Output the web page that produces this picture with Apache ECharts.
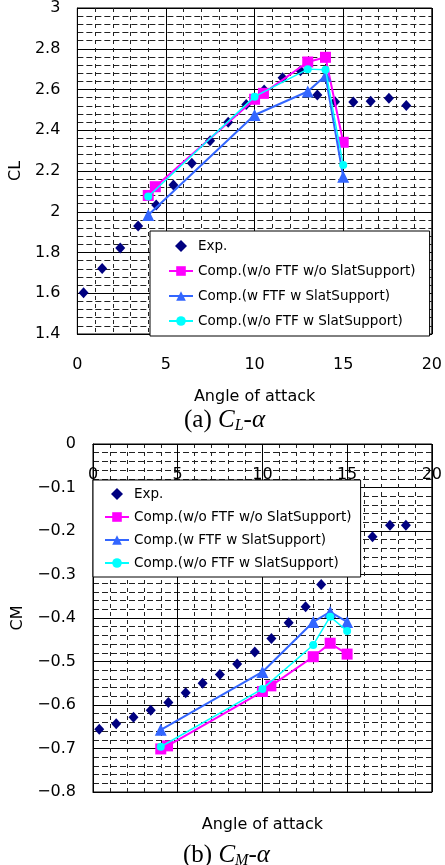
<!DOCTYPE html>
<html>
<head>
<meta charset="utf-8">
<script src="https://cdn.jsdelivr.net/npm/echarts@6/dist/echarts.min.js"></script>
<style>
  html, body { margin: 0; padding: 0; background: #fff; }
  #chart { width: 445px; height: 865px; }
</style>
</head>
<body>
<div id="chart"></div>
<script>
// ---- Series names ----
const seriesNames = [
  'Exp.',
  'Comp.(w/o FTF w/o SlatSupport)',
  'Comp.(w FTF w SlatSupport)',
  'Comp.(w/o FTF w SlatSupport)'
];

// ---- Angle of attack (deg) ----
const clExpAlpha = [0.35, 1.4, 2.42, 3.43, 4.45, 5.42, 6.46, 7.49, 8.51, 9.53, 10.54, 11.58, 12.59, 13.54, 14.54, 15.57, 16.55, 17.58, 18.56];
const cmExpAlpha = [0.37, 1.37, 2.39, 3.41, 4.45, 5.47, 6.47, 7.49, 8.51, 9.55, 10.53, 11.55, 12.55, 13.47, 16.5, 17.53, 18.47];
const noSlatAlpha = [4.0, 4.4, 10.0, 10.5, 13.0, 14.0, 15.0];
const slatAlpha = [4.0, 10.0, 13.0, 14.0, 15.0];

// ---- Lift coefficient CL ----
const clExp = [1.603, 1.721, 1.822, 1.930, 2.033, 2.131, 2.238, 2.349, 2.439, 2.526, 2.598, 2.658, 2.692, 2.573, 2.540, 2.539, 2.542, 2.557, 2.522];
const clNoFtfNoSlat = [2.080, 2.123, 2.552, 2.581, 2.735, 2.758, 2.341];
const clFtfSlat = [1.984, 2.475, 2.590, 2.667, 2.172];
const clNoFtfSlat = [2.075, 2.565, 2.700, 2.697, 2.229];

// ---- Pitching moment coefficient CM ----
const cmExp = [-0.656, -0.643, -0.628, -0.612, -0.594, -0.572, -0.550, -0.530, -0.506, -0.478, -0.447, -0.411, -0.374, -0.323, -0.213, -0.187, -0.187];
const cmNoFtfNoSlat = [-0.701, -0.694, -0.569, -0.556, -0.489, -0.458, -0.483];
const cmFtfSlat = [-0.657, -0.524, -0.409, -0.386, -0.409];
const cmNoFtfSlat = [-0.696, -0.563, -0.462, -0.397, -0.430];

// ---- Axis ranges / tick labels ----
const alphaTicks = { min: 0, max: 20, interval: 5 };
const clTicks = { min: 1.4, max: 3, interval: 0.2 };
const cmTicks = { min: -0.8, max: 0, interval: 0.1 };

const pair = (xs, ys) => xs.map((x, i) => [x, ys[i]]);

const FONT = 'DejaVu Sans';
const colors = { exp: '#000080', noSlat: '#ff00ff', ftf: '#3366ff', noFtf: '#00ffff' };
const DIAMOND = 'path://M5,0 L10,5 L5,10 L0,5 Z';

const majorLine = { show: true, lineStyle: { color: '#000', width: 1, type: 'solid' } };
const minorLineV = { show: true, lineStyle: { color: '#222', width: 1, type: [4, 4] } };
const minorLineH = { show: true, lineStyle: { color: '#222', width: 1, type: [6, 3] } };

function xAxisFor(gridIndex, extra) {
  return Object.assign({
    type: 'value', gridIndex,
    min: alphaTicks.min, max: alphaTicks.max, interval: alphaTicks.interval,
    axisLine: { show: true, onZero: false, lineStyle: { color: '#000', width: 1 } },
    axisTick: { show: false },
    minorTick: { show: false, splitNumber: 5 },
    splitLine: majorLine,
    minorSplitLine: minorLineV,
    axisLabel: { color: '#000', fontFamily: FONT, fontSize: 16, margin: 23 },
    nameTextStyle: { color: '#000', fontFamily: FONT, fontSize: 16 }
  }, extra);
}

function yAxisFor(gridIndex, ticks, extra) {
  return Object.assign({
    type: 'value', gridIndex,
    min: ticks.min, max: ticks.max, interval: ticks.interval,
    axisLine: { show: true, onZero: false, lineStyle: { color: '#000', width: 1 } },
    axisTick: { show: false },
    minorTick: { show: false, splitNumber: 5 },
    splitLine: majorLine,
    minorSplitLine: minorLineH,
    nameLocation: 'middle',
    nameTextStyle: { color: '#000', fontFamily: FONT, fontSize: 16 }
  }, extra);
}

function seriesSet(xi, yi, expX, expY, nsY, fsY, nfY) {
  return [
    {
      name: seriesNames[0], type: 'scatter', xAxisIndex: xi, yAxisIndex: yi,
      symbol: 'diamond', symbolSize: [10, 11],
      itemStyle: { color: colors.exp, opacity: 1 },
      data: pair(expX, expY), z: 2
    },
    {
      name: seriesNames[1], type: 'line', xAxisIndex: xi, yAxisIndex: yi,
      symbol: 'rect', symbolSize: 11, showAllSymbol: true,
      lineStyle: { color: colors.noSlat, width: 2 },
      itemStyle: { color: colors.noSlat },
      data: pair(noSlatAlpha, nsY), z: 3
    },
    {
      name: seriesNames[2], type: 'line', xAxisIndex: xi, yAxisIndex: yi,
      symbol: 'triangle', symbolSize: 12, showAllSymbol: true,
      lineStyle: { color: colors.ftf, width: 2 },
      itemStyle: { color: colors.ftf },
      data: pair(slatAlpha, fsY), z: 4
    },
    {
      name: seriesNames[3], type: 'line', xAxisIndex: xi, yAxisIndex: yi,
      symbol: 'circle', symbolSize: 8, showAllSymbol: true,
      lineStyle: { color: colors.noFtf, width: 1.5 },
      itemStyle: { color: colors.noFtf },
      data: pair(slatAlpha, nfY), z: 5
    }
  ];
}

function legendAt(left, top, gap, padding) {
  return {
    data: [{ name: seriesNames[0], icon: DIAMOND, itemStyle: { opacity: 1 } }].concat(seriesNames.slice(1)),
    orient: 'vertical', left, top,
    itemWidth: 24, itemHeight: 12, itemGap: gap, padding,
    symbolKeepAspect: true,
    backgroundColor: '#fff', borderColor: '#000', borderWidth: 1, borderRadius: 0,
    textStyle: { color: '#000', fontFamily: FONT, fontSize: 13.5 },
    selectedMode: false, z: 10
  };
}

const captionRich = {
  n: { fontFamily: 'Liberation Serif', fontSize: 25, fontWeight: 'normal', color: '#000' },
  i: { fontFamily: 'Liberation Serif', fontSize: 25, fontWeight: 'normal', fontStyle: 'italic', color: '#000' },
  s: { fontFamily: 'Liberation Serif', fontSize: 16, fontWeight: 'normal', fontStyle: 'italic', color: '#000', padding: [12, 0, 0, 0] }
};

const chart = echarts.init(document.getElementById('chart'), null, { renderer: 'canvas' });

chart.setOption({
  animation: false,
  backgroundColor: '#fff',
  title: [
    { text: '{n|(a) }{i|C}{s|L}{n|-}{i|α}', left: 184, top: 406, padding: 0,
      textStyle: { fontWeight: 'normal', rich: captionRich } },
    { text: '{n|(b) }{i|C}{s|M}{n|-}{i|α}', left: 183, top: 841, padding: 0,
      textStyle: { fontWeight: 'normal', rich: captionRich } }
  ],
  grid: [
    { left: 77, top: 8, width: 358, height: 326, show: true, borderColor: '#000', borderWidth: 1, backgroundColor: 'transparent' },
    { left: 93, top: 444, width: 340, height: 348, show: true, borderColor: '#000', borderWidth: 1, backgroundColor: 'transparent' }
  ],
  xAxis: [
    xAxisFor(0, { position: 'bottom', name: 'Angle of attack', nameLocation: 'middle', nameGap: 55 }),
    xAxisFor(1, { position: 'top', axisLabel: { color: '#000', fontFamily: FONT, fontSize: 16, margin: 23, inside: true } }),
    xAxisFor(1, { position: 'bottom', axisLabel: { show: false }, splitLine: { show: false }, minorSplitLine: { show: false },
                  name: 'Angle of attack', nameLocation: 'middle', nameGap: 25 })
  ],
  yAxis: [
    yAxisFor(0, clTicks, {
      name: 'CL', nameGap: 52,
      axisLabel: { color: '#000', fontFamily: FONT, fontSize: 16, margin: 17,
                   formatter: v => String(+v.toFixed(1)) }
    }),
    yAxisFor(1, cmTicks, {
      name: 'CM', nameGap: 65,
      axisLabel: { color: '#000', fontFamily: FONT, fontSize: 16, margin: 17,
                   formatter: v => (Math.abs(v) < 1e-9 ? '0' : '\u2212' + Math.abs(v).toFixed(1)) }
    })
  ],
  legend: [
    legendAt(150, 231, 11, [8, 14, 8, 18]),
    legendAt(93, 480, 9, [7, 9, 7, 11])
  ],
  series: [
    ...seriesSet(0, 0, clExpAlpha, clExp, clNoFtfNoSlat, clFtfSlat, clNoFtfSlat),
    ...seriesSet(1, 1, cmExpAlpha, cmExp, cmNoFtfNoSlat, cmFtfSlat, cmNoFtfSlat)
  ]
});
</script>
</body>
</html>
